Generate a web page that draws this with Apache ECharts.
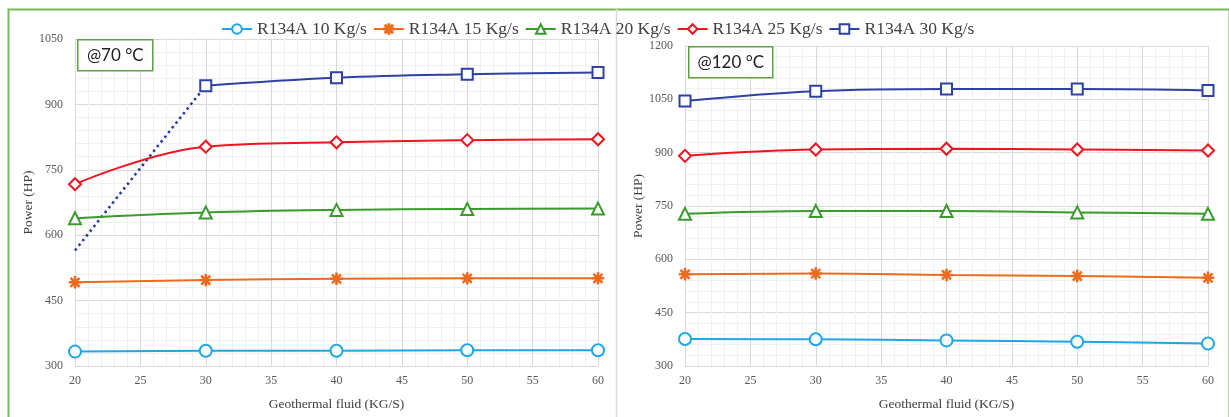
<!DOCTYPE html>
<html>
<head>
<meta charset="utf-8">
<script src="https://cdn.jsdelivr.net/npm/echarts@6/dist/echarts.min.js"></script>
<style>
html,body{margin:0;padding:0;background:#fff;}
#chart{width:1229px;height:417px;}
</style>
</head>
<body>
<div id="chart"></div>
<script>
// ---- data ----
const xValues = [20, 30, 40, 50, 60];
const seriesNames = ['R134A 10 Kg/s', 'R134A 15 Kg/s', 'R134A 20 Kg/s', 'R134A 25 Kg/s', 'R134A 30 Kg/s'];

// @70 °C panel
const left10 = [333, 335, 335, 336, 336];
const left15 = [492, 497, 500, 501, 501];
const left20 = [639, 652, 658, 660, 661];
const left25 = [717, 803, 813, 818, 820];
const left30 = [null, 943, 961, 969, 973];
const left30Trend = [565, 943, null, null, null];

// @120 °C panel
const right10 = [376, 375, 372, 368, 363];
const right15 = [558, 560, 556, 553, 548];
const right20 = [728, 736, 736, 732, 728];
const right25 = [891, 909, 911, 909, 906];
const right30 = [1045, 1073, 1079, 1079, 1075];

const leftYTicks = {min: 300, max: 1050, interval: 150};
const rightYTicks = {min: 300, max: 1200, interval: 150};
const xTicks = {min: 20, max: 60, interval: 5};
const panelLabels = ['@70 °C', '@120 °C'];
const xTitle = 'Geothermal fluid (KG/S)';
const yTitle = 'Power (HP)';

// ---- styles ----
const colors = ['#1EA6E6', '#EE6A1E', '#3A9A2E', '#F0141E', '#2E42A4'];
const asterisk = 'path://M9 0L11 0L11 20L9 20Z M0 9L20 9L20 11L0 11Z M2 3.4L3.4 2L18 16.6L16.6 18Z M16.6 2L18 3.4L3.4 18L2 16.6Z';
const symbols = ['emptyCircle', asterisk, 'emptyTriangle', 'emptyDiamond', 'emptyRect'];
const symbolSizes = [12, 11, 12, 12, 11];
const serif = 'Liberation Serif';

function pairs(arr) { return xValues.map((x, i) => [x, arr[i]]); }

function makeSeries(data, idx, gi) {
  return {
    name: seriesNames[idx],
    type: 'line',
    xAxisIndex: gi, yAxisIndex: gi,
    data: pairs(data),
    smooth: 0.4,
    connectNulls: false,
    symbol: symbols[idx],
    symbolSize: symbolSizes[idx],
    lineStyle: {color: colors[idx], width: 2},
    itemStyle: {color: colors[idx], borderColor: colors[idx], borderWidth: 1.4},
    emphasis: {disabled: true},
    z: 3
  };
}

function xAxis(gi) {
  return {
    type: 'value', gridIndex: gi, min: xTicks.min, max: xTicks.max, interval: xTicks.interval,
    name: xTitle, nameLocation: 'middle', nameGap: 31,
    nameTextStyle: {fontFamily: serif, fontSize: 13.5, color: '#404040'},
    axisLine: {show: true, lineStyle: {color: '#D9D9D9'}},
    axisTick: {show: false},
    axisLabel: {fontFamily: serif, fontSize: 12, color: '#595959', margin: 9, formatter: v => String(v)},
    splitLine: {show: true, lineStyle: {color: '#D9D9D9', width: 1}},
    minorTick: {show: false, splitNumber: 5},
    minorSplitLine: {show: true, lineStyle: {color: '#F0F0F0', width: 1}}
  };
}
function yAxis(gi, t, gap) {
  return {
    type: 'value', gridIndex: gi, min: t.min, max: t.max, interval: t.interval,
    name: yTitle, nameLocation: 'middle', nameGap: gap,
    nameTextStyle: {fontFamily: serif, fontSize: 13.5, color: '#404040'},
    axisLine: {show: false},
    axisTick: {show: false},
    axisLabel: {fontFamily: serif, fontSize: 12, color: '#595959', margin: 12, formatter: v => String(v)},
    splitLine: {show: true, lineStyle: {color: '#D9D9D9', width: 1}},
    minorTick: {show: false, splitNumber: 5},
    minorSplitLine: {show: true, lineStyle: {color: '#F0F0F0', width: 1}}
  };
}

const leftSets = [left10, left15, left20, left25, left30];
const rightSets = [right10, right15, right20, right25, right30];
const series = [];
leftSets.forEach((d, i) => series.push(makeSeries(d, i, 0)));
rightSets.forEach((d, i) => series.push(makeSeries(d, i, 1)));
series.push({
  name: 'trend', type: 'line', xAxisIndex: 0, yAxisIndex: 0,
  data: pairs(left30Trend), showSymbol: false, symbol: 'none',
  lineStyle: {color: '#2A3A9E', width: 2.6, type: [2.5, 3.5]},
  emphasis: {disabled: true}, z: 2
});

function labelBox(x, y, w, h, text) {
  return {
    type: 'group', left: x, top: y, z: 100,
    children: [
      {type: 'rect', z: 100, shape: {x: 0, y: 0, width: w, height: h}, style: {fill: '#ffffff', stroke: '#5EA245', lineWidth: 1.5}},
      {type: 'text', z: 101, x: w / 2, y: h / 2, style: {text: text, fill: '#222', font: '17px Lato, "Noto Sans", sans-serif', align: 'center', verticalAlign: 'middle'}}
    ]
  };
}

const chart = echarts.init(document.getElementById('chart'), null, {renderer: 'canvas'});
chart.setOption({
  animation: false,
  backgroundColor: '#fff',
  legend: {
    data: seriesNames,
    left: 216, top: 15,
    itemWidth: 30, itemHeight: 12, itemGap: 6,
    textStyle: {fontFamily: serif, fontSize: 17.5, color: '#404040'}
  },
  grid: [
    {left: 75, right: 631, top: 39, bottom: 51},
    {left: 685, right: 21, top: 46, bottom: 51}
  ],
  xAxis: [xAxis(0), xAxis(1)],
  yAxis: [yAxis(0, leftYTicks, 39), yAxis(1, rightYTicks, 37)],
  series: series,
  graphic: [
    {type: 'rect', left: 6, top: 7, z: -1, shape: {width: 1221, height: 420}, style: {fill: 'none', stroke: '#7CB85A', lineWidth: 2}},
    {type: 'line', z: -1, shape: {x1: 616.5, y1: 9, x2: 616.5, y2: 417}, style: {stroke: '#D9D9D9', lineWidth: 1.5}},
    labelBox(77, 39, 75, 31, panelLabels[0]),
    labelBox(688, 46, 84, 31, panelLabels[1])
  ]
});
</script>
</body>
</html>
